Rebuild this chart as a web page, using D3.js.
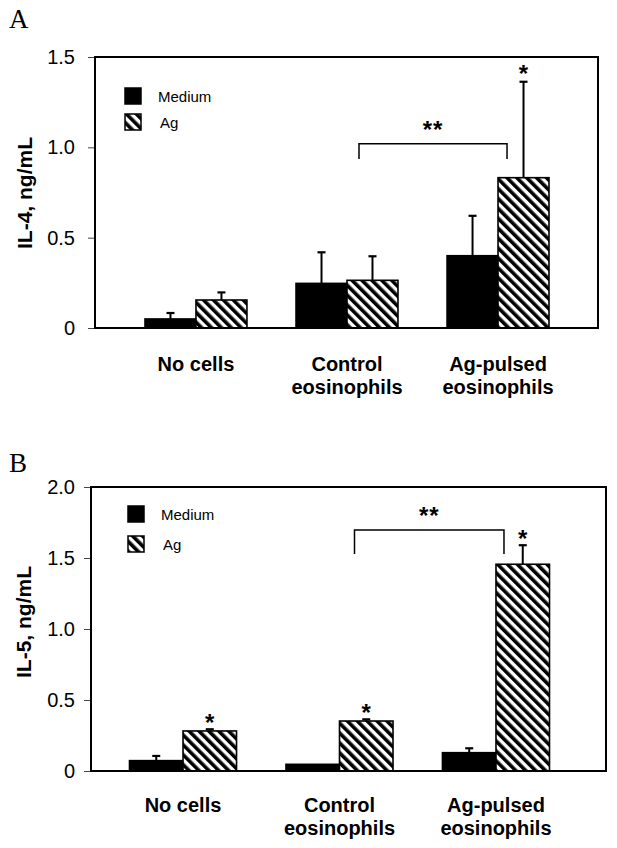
<!DOCTYPE html>
<html><head><meta charset="utf-8">
<script src="https://cdn.jsdelivr.net/npm/d3@7"></script>
<style>body{margin:0;background:#fff} svg{display:block}</style>
</head><body>
<svg id="chart" width="617" height="848"></svg>
<script>
// ---------- data ----------
const categoryLines = [["No cells"], ["Control", "eosinophils"], ["Ag-pulsed", "eosinophils"]];
const seriesNames = ["Medium", "Ag"];

// Panel A: IL-4
const il4Medium    = [0.050, 0.247, 0.400];
const il4MediumErr = [0.033, 0.172, 0.221];
const il4Ag        = [0.155, 0.264, 0.832];
const il4AgErr     = [0.042, 0.133, 0.531];
const il4AgSig     = [false, false, true];
const il4Ticks      = [0, 0.5, 1.0, 1.5];
const il4TickLabels = ["0", "0.5", "1.0", "1.5"];

// Panel B: IL-5
const il5Medium    = [0.073, 0.047, 0.129];
const il5MediumErr = [0.033, 0.000, 0.031];
const il5Ag        = [0.282, 0.352, 1.456];
const il5AgErr     = [0.012, 0.012, 0.134];
const il5AgSig     = [true, true, true];
const il5Ticks      = [0, 0.5, 1.0, 1.5, 2.0];
const il5TickLabels = ["0", "0.5", "1.0", "1.5", "2.0"];

// ---------- drawing ----------
const svg = d3.select("#chart");
const defs = svg.append("defs");
const pat = defs.append("pattern").attr("id", "hatch")
  .attr("patternUnits", "userSpaceOnUse").attr("width", 7).attr("height", 7)
  .attr("patternTransform", "rotate(-45)");
pat.append("rect").attr("width", 7).attr("height", 7).attr("fill", "#fff");
pat.append("rect").attr("width", 3.6).attr("height", 7).attr("fill", "#000");

const SANS = "Arial, 'Liberation Sans', Helvetica, sans-serif";
const SERIF = "'Times New Roman', 'Liberation Serif', serif";

function panel(o) {
  const g = svg.append("g");
  const y = d3.scaleLinear().domain([0, o.ymax]).range([o.bottom, o.top]);
  const x = d3.scaleBand().domain(d3.range(categoryLines.length))
    .range([o.barsL, o.barsR]).paddingInner(o.pad).paddingOuter(0);
  const xs = d3.scaleBand().domain([0, 1]).range([0, x.bandwidth()]);

  // panel letter
  g.append("text").attr("x", 9).attr("y", o.letterY).text(o.letter)
    .attr("font-family", SERIF).attr("font-size", 27).attr("fill", "#000");

  // y axis ticks + labels
  const ax = d3.axisLeft(y).tickValues(o.ticks)
    .tickFormat((d, i) => o.tickLabels[i]).tickSize(7).tickPadding(o.tickPad);
  const axg = g.append("g").attr("transform", `translate(${o.left},0)`).call(ax);
  axg.select(".domain").remove();
  axg.selectAll(".tick line").attr("stroke", "#444").attr("stroke-width", 1);
  axg.selectAll(".tick text").attr("font-family", SANS).attr("font-size", 20).attr("fill", "#000");

  // y label
  g.append("text")
    .attr("transform", `translate(${o.ylabX},${o.ylabY}) rotate(-90)`)
    .attr("text-anchor", "middle").attr("font-family", SANS).attr("font-weight", "bold")
    .attr("font-size", 21).text(o.ylabel);

  // bars
  const rows = [];
  o.medium.forEach((v, i) => rows.push({ i, s: 0, v, e: o.mediumErr[i], sig: false }));
  o.ag.forEach((v, i) => rows.push({ i, s: 1, v, e: o.agErr[i], sig: o.agSig[i] }));

  g.selectAll("rect.bar").data(rows).enter().append("rect").attr("class", "bar")
    .attr("x", d => x(d.i) + xs(d.s)).attr("width", xs.bandwidth())
    .attr("y", d => y(d.v)).attr("height", d => y(0) - y(d.v))
    .attr("fill", d => d.s === 0 ? "#000" : "url(#hatch)")
    .attr("stroke", "#000").attr("stroke-width", 1.6);

  // error bars (upper only)
  const eb = g.selectAll("g.err").data(rows.filter(d => d.e > 0)).enter().append("g");
  eb.append("line")
    .attr("x1", d => x(d.i) + xs(d.s) + xs.bandwidth() / 2)
    .attr("x2", d => x(d.i) + xs(d.s) + xs.bandwidth() / 2)
    .attr("y1", d => y(d.v)).attr("y2", d => y(d.v + d.e))
    .attr("stroke", "#000").attr("stroke-width", 2);
  eb.append("line")
    .attr("x1", d => x(d.i) + xs(d.s) + xs.bandwidth() / 2 - 4)
    .attr("x2", d => x(d.i) + xs(d.s) + xs.bandwidth() / 2 + 4)
    .attr("y1", d => y(d.v + d.e)).attr("y2", d => y(d.v + d.e))
    .attr("stroke", "#000").attr("stroke-width", 2.2);

  // significance stars
  g.selectAll("text.star").data(rows.filter(d => d.sig)).enter().append("text")
    .attr("x", d => x(d.i) + xs(d.s) + xs.bandwidth() / 2)
    .attr("y", d => y(d.v + d.e) + o.starDy)
    .attr("text-anchor", "middle").attr("font-family", SANS).attr("font-weight", "bold")
    .attr("font-size", 24).text("*");

  // bracket between Control and Ag-pulsed
  const bl = x(1) + x.bandwidth() / 2 + o.brL;
  const br = x(2) + x.bandwidth() / 2 + o.brR;
  g.append("path")
    .attr("d", `M${bl},${y(o.brBottom)}V${y(o.brTop)}H${br}V${y(o.brBottom)}`)
    .attr("fill", "none").attr("stroke", "#000").attr("stroke-width", 1.5);
  g.append("text").attr("x", (bl + br) / 2).attr("y", y(o.brTop) + o.dblDy)
    .attr("text-anchor", "middle").attr("font-family", SANS).attr("font-weight", "bold")
    .attr("font-size", 24).attr("letter-spacing", 1).text("**");

  // frame
  g.append("rect").attr("x", o.left).attr("y", o.top)
    .attr("width", o.right - o.left).attr("height", o.bottom - o.top)
    .attr("fill", "none").attr("stroke", "#000").attr("stroke-width", 2);

  // legend
  seriesNames.forEach((name, k) => {
    const ly = o.legY + k * o.legGap;
    g.append("rect").attr("x", o.legX).attr("y", ly).attr("width", 16).attr("height", 16)
      .attr("fill", k === 0 ? "#000" : "url(#hatch)").attr("stroke", "#000").attr("stroke-width", 1.5);
    g.append("text").attr("x", o.legX + 33 + (k === 1 ? 2 : 0)).attr("y", ly + 14)
      .attr("font-family", SANS).attr("font-size", 15).text(name);
  });

  // category labels
  categoryLines.forEach((lines, i) => {
    const t = g.append("text").attr("text-anchor", "middle")
      .attr("font-family", SANS).attr("font-weight", "bold").attr("font-size", 20);
    lines.forEach((ln, k) => {
      t.append("tspan").attr("x", x(i) + x.bandwidth() / 2).attr("y", o.catY + k * 23).text(ln);
    });
  });
}

panel({
  letter: "A", letterY: 28,
  left: 95, right: 598, top: 57, bottom: 328, ymax: 1.5,
  barsL: 145, barsR: 549, pad: 0.325,
  ticks: il4Ticks, tickLabels: il4TickLabels, tickPad: 13,
  ylabel: "IL-4, ng/mL", ylabX: 32, ylabY: 193,
  medium: il4Medium, mediumErr: il4MediumErr, ag: il4Ag, agErr: il4AgErr, agSig: il4AgSig,
  starDy: 0, brL: 12, brR: 9, brTop: 1.02, brBottom: 0.935, dblDy: -6,
  legX: 125, legY: 88, legGap: 26,
  catY: 371
});

panel({
  letter: "B", letterY: 472,
  left: 91, right: 606, top: 487, bottom: 771, ymax: 2.0,
  barsL: 129.5, barsR: 549.5, pad: 0.316,
  ticks: il5Ticks, tickLabels: il5TickLabels, tickPad: 9,
  ylabel: "IL-5, ng/mL", ylabX: 31, ylabY: 622,
  medium: il5Medium, mediumErr: il5MediumErr, ag: il5Ag, agErr: il5AgErr, agSig: il5AgSig,
  starDy: 2, brL: 15, brR: 8, brTop: 1.697, brBottom: 1.528, dblDy: -6,
  legX: 128, legY: 506, legGap: 30,
  catY: 812
});
</script>
</body></html>
